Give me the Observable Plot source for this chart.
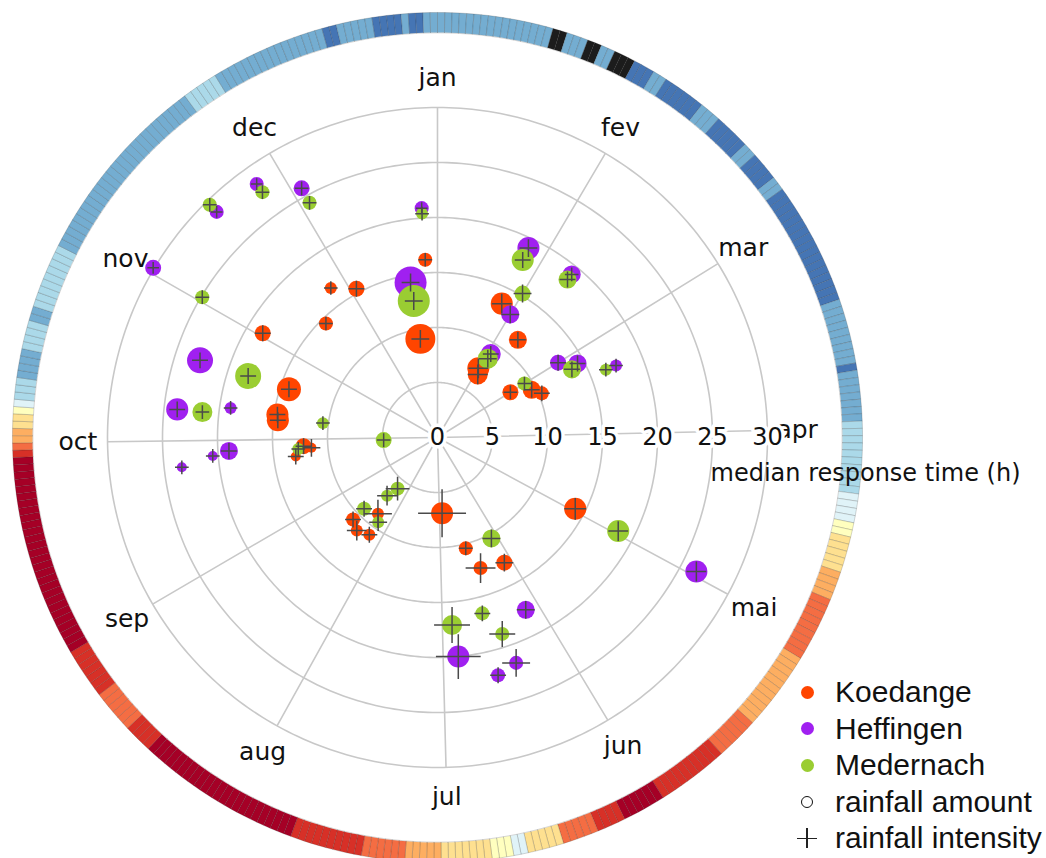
<!DOCTYPE html>
<html>
<head>
<meta charset="utf-8">
<script src="https://cdn.jsdelivr.net/npm/d3@7"></script>
<script src="https://cdn.jsdelivr.net/npm/@observablehq/plot@0.6"></script>
<style>
html, body { margin: 0; padding: 0; background: #fff; overflow: hidden; }
#wrap { position: relative; width: 1046px; height: 858px; }
#legend { position: absolute; left: 793px; top: 674px; font-family: "Liberation Sans", Arial, sans-serif; font-size: 30px; color: #111; }
.row { display: flex; align-items: center; height: 36.5px; white-space: nowrap; }
.sym { width: 28px; height: 28px; display: flex; align-items: center; justify-content: center; margin-right: 14px; position: relative; }
.dot { width: 13px; height: 13px; border-radius: 50%; }
.ring { width: 10px; height: 10px; border-radius: 50%; border: 1.5px solid #111; }
.plus::before, .plus::after { content: ""; position: absolute; background: #222; }
.plus::before { left: 4px; right: 4px; top: 13.25px; height: 1.5px; }
.plus::after { top: 4px; bottom: 4px; left: 13.25px; width: 1.5px; }
</style>
</head>
<body>
<div id="wrap"><div id="legend"></div></div>
<script>
// ---- axis definitions ----
const months = ["jan", "fev", "mar", "apr", "mai", "jun", "jul", "aug", "sep", "oct", "nov", "dec"];
const monthStartDay = [0, 31, 59, 90, 120, 151, 181, 212, 243, 273, 304, 334];
const radialTicks = [0, 5, 10, 15, 20, 25, 30];
const stations = ["Koedange", "Heffingen", "Medernach"];
const stationColors = ["#ff4500", "#a020f0", "#9acd32"];

// ---- events: [day of year, median response time (h), rainfall amount (mm), rainfall intensity (mm/h)] ----
const koedange = [
  [361, 16.2, 7.7, 5.7], [329, 16.7, 5.6, 5.7], [336, 15.4, 10, 6.6], [355, 9.1, 35, 7.4],
  [320, 14.5, 7.7, 5.7], [305, 18.5, 10, 6.6], [292, 14.2, 22.5, 6.6], [282, 14.7, 19, 6.6],
  [280, 14.6, 19, 6.6], [270, 12.2, 10, 6.6], [266, 13.0, 3.9, 6.6], [269, 11.5, 3.9, 7.4],
  [221, 8.8, 5.6, 11.5], [229, 10.7, 7.7, 6.6], [224, 11.2, 5.6, 8.2], [218, 10.8, 5.6, 6.6],
  [179, 6.9, 19, 19.7], [119, 14.1, 19, 9], [168, 10.4, 7.7, 5.7], [154, 12.9, 10, 7.4],
  [164, 12.5, 7.7, 12.3], [26, 13.5, 19, 8.2], [40, 11.5, 12.7, 6.6], [31, 7.3, 19, 8.2],
  [33, 6.8, 15.6, 8.2], [64, 9.6, 12.7, 6.6], [68, 10.3, 7.7, 6.6], [59, 7.8, 10, 5.7]
];
const heffingen = [
  [305, 30.1, 10, 4.9], [320, 28.7, 7.7, 4.9], [329, 28.3, 7.7, 4.9], [336, 25.8, 10, 5.7],
  [361, 20.9, 7.7, 4.9], [355, 14.3, 40, 7.4], [292, 22.7, 26.4, 6.6], [280, 23.8, 19, 6.6],
  [282, 19.0, 5.6, 5.7], [270, 19.0, 12.7, 6.6], [269, 20.5, 3.9, 5.7], [267, 23.4, 3.9, 5.7],
  [119, 26.5, 19, 8.2], [155, 17.6, 12.7, 7.4], [177, 20.0, 19, 18.4], [163, 21.7, 7.7, 11.5],
  [168, 22.3, 7.7, 6.6], [26, 19.1, 19, 7.4], [40, 19.2, 12.7, 5.7], [31, 13.0, 12.7, 7.4],
  [33, 9.0, 15.6, 6.6], [59, 12.9, 10, 6.6], [63, 14.4, 12.7, 6.6], [69, 17.5, 5.6, 5.7]
];
const medernach = [
  [320, 29.6, 7.7, 5.7], [329, 27.4, 7.7, 5.7], [336, 24.3, 7.7, 5.7], [361, 20.4, 5.6, 5.7],
  [305, 24.9, 7.7, 5.7], [355, 12.6, 40, 7.4], [292, 18.1, 26.4, 6.6], [280, 21.5, 15.6, 5.7],
  [281, 10.5, 5.6, 5.7], [271, 4.9, 10, 5.7], [269, 12.7, 5.6, 5.7], [221, 5.9, 7.7, 9.8],
  [224, 7.0, 5.6, 8.2], [229, 9.3, 7.7, 6.6], [218, 9.4, 5.6, 7.4], [119, 18.5, 19, 8.2],
  [154, 10.4, 12.7, 7.4], [168, 16.5, 7.7, 6.6], [178, 17.1, 15.6, 14.8], [164, 18.8, 7.7, 10.7],
  [26, 17.9, 19, 6.6], [40, 18.6, 12.7, 6.6], [31, 15.2, 10, 7.4], [33, 8.5, 15.6, 7.4],
  [64, 13.7, 12.7, 6.6], [69, 16.5, 5.6, 5.7], [59, 9.3, 7.7, 5.7]
];

// ---- outer ring: daily air temperature, as runs of consecutive days ----
const ringRunDays = [16, 2, 3, 2, 2, 3, 3, 2, 6, 3, 5, 2, 4, 2, 17, 9, 1, 7, 10, 4, 2, 5, 4, 9, 11, 6, 10, 6, 4, 5,
  5, 2, 3, 7, 5, 6, 10, 23, 4, 6, 7, 28, 1, 1, 2, 2, 1, 1, 3, 4, 4, 2, 9, 27, 5, 16, 2, 5, 4, 1, 2, 2];
const ringRunTemp = [3.5, -3, 3.5, -3, 3.5, -3, 1, 3.5, 1, 3.5, 1, 3.5, 1, 3.5, 1, 3.5, 1, 3.5, 6, 8, 10, 12, 14, 16, 14, 16, 18, 21, 18, 16,
  12, 8, 10, 12, 14, 16, 18, 21, 18, 16, 18, 21, 18, 16, 14, 12, 10, 8, 6, 3.5, 6, 3.5, 6, 3.5, 6, 3.5, 1, 3.5, 1, 3.5, 1, 3.5];
const tempThresholds = [0, 2, 5, 7, 9, 11, 13, 15, 17, 19];
const tempColors = ["#1c1c1c", "#4575b4", "#74add1", "#abd9e9", "#e0f3f8", "#ffffbf", "#fee090", "#fdae61", "#f46d43", "#d73027", "#a50026"];

// ---- geometry (polar via azimuthal projection: longitude = angle, 90 - latitude = hours) ----
const DAYS = 365;
const lon = (day) => 180 - (day / DAYS) * 360;
const lat = (h) => 90 - h;
const ringInner = 36.82, ringOuter = 38.64;   // in hours units (radial)
const monthLabelRadius = 32.7;
const titleAngleDay = 96.1, titleRadius = 39.05;

const toRows = (arr, station) => arr.map(([day, h, amount, intensity]) => ({station, day, h, amount, intensity}));
const kRows = toRows(koedange, stations[0]);
const hRows = toRows(heffingen, stations[1]);
const mRows = toRows(medernach, stations[2]);
const allRows = [...kRows, ...hRows, ...mRows];

const ringDays = [];
{
  let d = 0;
  ringRunDays.forEach((n, i) => { for (let k = 0; k < n; ++k) ringDays.push({day: d++, temp: ringRunTemp[i]}); });
}
const ringSegs = ringDays.map(({day, temp}) => {
  const a0 = lon(day), a1 = lon(day + 1);
  const coords = [[a0, lat(ringInner)], [a1, lat(ringInner)], [a1, lat(ringOuter)], [a0, lat(ringOuter)], [a0, lat(ringInner)]];
  const f = {type: "Feature", properties: {temp}, geometry: {type: "Polygon", coordinates: [coords]}};
  if (d3.geoArea(f) > 2 * Math.PI) coords.reverse();
  return f;
});
const gridCircles = radialTicks.filter((t) => t > 0).map((t) => d3.geoCircle().center([0, 90]).radius(t).precision(1)());

const plusSize = d3.scaleLinear([0, 20], [0, 15.7]);
const font = "DejaVu Sans";

const chart = Plot.plot({
  width: 1046,
  height: 858,
  marginLeft: 107, marginTop: 107, marginRight: 279, marginBottom: 91,
  projection: {
    type: "azimuthal-equidistant",
    rotate: [0, -90],
    domain: d3.geoCircle().center([0, 90]).radius(30).precision(1)(),
    clip: false
  },
  r: {type: "sqrt", domain: [0, 40], range: [0, 16]},
  color: {type: "threshold", domain: tempThresholds, range: tempColors},
  style: {background: "white", overflow: "visible"},
  marks: [
    Plot.geo(gridCircles, {stroke: "#c8c8c8", strokeWidth: 1.6, fill: "none"}),
    Plot.link(monthStartDay, {x1: (d) => lon(d), y1: 90, x2: (d) => lon(d), y2: lat(30), stroke: "#c8c8c8", strokeWidth: 1.6}),
    Plot.geo(ringSegs, {fill: (d) => d.properties.temp, stroke: "#222", strokeOpacity: 0.3, strokeWidth: 0.6}),
    Plot.text(months, {x: (d, i) => lon(monthStartDay[i]), y: lat(monthLabelRadius), text: (d) => d, fontSize: 25, fontFamily: font, fill: "#111"}),
    Plot.text(radialTicks, {x: 90, y: (d) => lat(d), text: (d) => String(d), fontSize: 24, fontFamily: font, fill: "#111", stroke: "white", strokeWidth: 7}),
    Plot.dot(kRows, {x: (d) => lon(d.day), y: (d) => lat(d.h), r: "amount", fill: stationColors[0]}),
    Plot.dot(hRows, {x: (d) => lon(d.day), y: (d) => lat(d.h), r: "amount", fill: stationColors[1]}),
    Plot.dot(mRows, {x: (d) => lon(d.day), y: (d) => lat(d.h), r: "amount", fill: stationColors[2]}),
    Plot.dot(allRows, {x: (d) => lon(d.day), y: (d) => lat(d.h), r: {value: (d) => plusSize(d.intensity), scale: null}, symbol: "plus", stroke: "#4a4a4a", strokeWidth: 1.5}),
    Plot.text(["median response time (h)"], {x: lon(titleAngleDay), y: lat(titleRadius), text: (d) => d, fontSize: 24, fontFamily: font, fill: "#111"})
  ]
});
document.getElementById("wrap").prepend(chart);

// ---- legend ----
const legend = document.getElementById("legend");
stations.forEach((s, i) => {
  legend.insertAdjacentHTML("beforeend", `<div class="row"><span class="sym"><span class="dot" style="background:${stationColors[i]}"></span></span>${s}</div>`);
});
legend.insertAdjacentHTML("beforeend", `<div class="row"><span class="sym"><span class="ring"></span></span>rainfall amount</div>`);
legend.insertAdjacentHTML("beforeend", `<div class="row"><span class="sym plus"></span>rainfall intensity</div>`);
</script>
</body>
</html>
